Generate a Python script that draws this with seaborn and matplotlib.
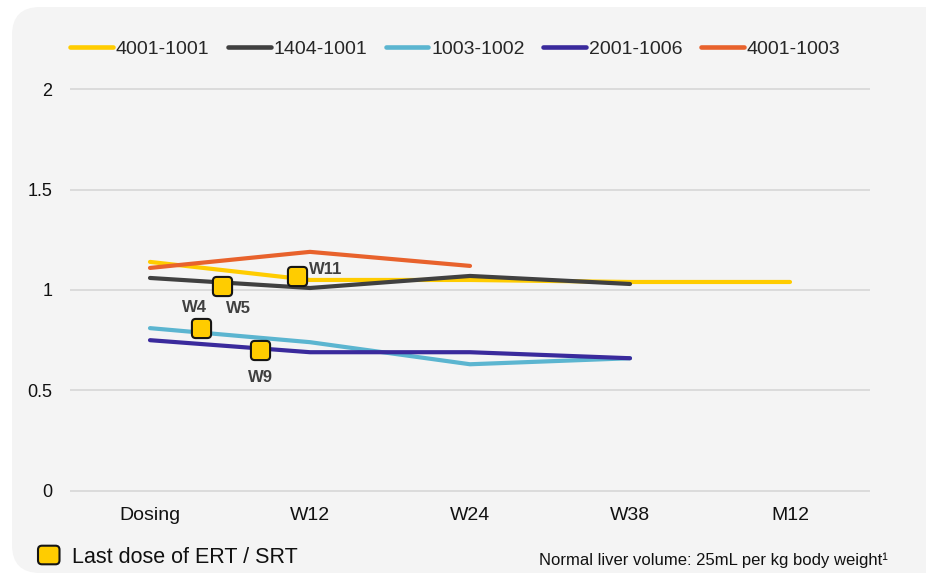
import matplotlib
matplotlib.use("Agg")
import matplotlib.pyplot as plt
import pandas as pd
import seaborn as sns
from matplotlib import font_manager
from matplotlib.patches import FancyBboxPatch
from matplotlib.transforms import IdentityTransform

# ---- data -------------------------------------------------------------
visits = ["Dosing", "W12", "W24", "W38", "M12"]
subjects = ["4001-1001", "1404-1001", "1003-1002", "2001-1006", "4001-1003"]

liver_4001_1001 = [1.14, 1.05, 1.05, 1.04, 1.04]
liver_1404_1001 = [1.06, 1.01, 1.07, 1.03, None]
liver_1003_1002 = [0.81, 0.74, 0.63, 0.66, None]
liver_2001_1006 = [0.75, 0.69, 0.69, 0.66, None]
liver_4001_1003 = [1.11, 1.19, 1.12, None, None]

subject_colors = ["#FFCC00", "#404040", "#5BB5D0", "#3A2A9C", "#E8622C"]

# last dose of ERT / SRT, placed between Dosing (0) and W12 (1)
last_dose_labels = ["W4", "W5", "W9", "W11"]
last_dose_pos = [0.32, 0.45, 0.69, 0.92]
last_dose_values = [0.81, 1.02, 0.70, 1.07]

y_ticks = [0, 0.5, 1, 1.5, 2]
y_tick_labels = ["0", "0.5", "1", "1.5", "2"]

# ---- long-form table ----------------------------------------------------
rows = []
for name, series in zip(subjects, [liver_4001_1001, liver_1404_1001, liver_1003_1002,
                                   liver_2001_1006, liver_4001_1003]):
    for idx, val in enumerate(series):
        if val is not None:
            rows.append({"subject": name, "visit": idx, "ratio": val})
df = pd.DataFrame(rows)

# ---- style --------------------------------------------------------------
sns.set_theme(style="white")
plt.rcParams["font.family"] = ["Liberation Sans", "DejaVu Sans"]

try:
    font_manager.findfont("Liberation Sans Narrow", fallback_to_default=False)
    legend_family, legend_size = "Liberation Sans Narrow", 17
except ValueError:
    legend_family, legend_size = "Liberation Sans", 14

W, H = 926, 575
fig = plt.figure(figsize=(W / 100, H / 100), dpi=100, facecolor="white")

# light rounded panel behind the chart
panel = FancyBboxPatch((12, 2), 990, 566,
                       boxstyle="round,pad=0,rounding_size=28",
                       transform=IdentityTransform(),
                       facecolor="#F4F4F4", edgecolor="none", zorder=-1)
fig.add_artist(panel)

ymin, ymax = -0.01, 2.01
px_per_unit = 200.7
ax_bottom = 490.7 + 0.01 * px_per_unit
ax_top = 89.3 - 0.01 * px_per_unit
ax = fig.add_axes([70 / W, (H - ax_bottom) / H, 800 / W, (ax_bottom - ax_top) / H])
ax.set_facecolor("none")

sns.lineplot(data=df, x="visit", y="ratio", hue="subject", hue_order=subjects,
             palette=subject_colors, linewidth=3, sort=False,
             solid_capstyle="round", solid_joinstyle="round", ax=ax)

ax.set_xlim(-0.5, 4.5)
ax.set_ylim(ymin, ymax)
ax.set_xticks(range(len(visits)), visits)
ax.set_yticks(y_ticks, y_tick_labels)
ax.grid(axis="y", color="#D9D9D9", linewidth=1.3)
ax.grid(axis="x", visible=False)
ax.set_axisbelow(True)
sns.despine(ax=ax, left=True, bottom=True)
ax.set_xlabel("")
ax.set_ylabel("")
ax.tick_params(axis="x", length=0, labelsize=14, pad=10, labelcolor="#111111")
ax.tick_params(axis="y", length=0, labelsize=13, pad=12.7, labelcolor="#111111")

# rounded-square markers for the last dose
marker_path = FancyBboxPatch((-0.5, -0.5), 1, 1,
                             boxstyle="round,pad=0,rounding_size=0.2").get_path()
ax.scatter(last_dose_pos, last_dose_values, marker=marker_path, s=190,
           color="#FFCC00", edgecolors="#151515", linewidths=1.5, zorder=5)

label_offsets = {"W4": ((-4.5, 15), "center"), "W5": ((12, -16), "center"),
                 "W9": ((0, -19.5), "center"), "W11": ((8.5, 5), "left")}
for lab, xp, yv in zip(last_dose_labels, last_dose_pos, last_dose_values):
    off, ha = label_offsets[lab]
    ax.annotate(lab, (xp, yv), xytext=off, textcoords="offset points",
                ha=ha, va="center", fontsize=12, fontweight="bold",
                color="#404040", zorder=6)

# legend across the top
handles, labels = ax.get_legend_handles_labels()
for h in handles:
    h.set_linewidth(3.3)
ax.get_legend().remove()
fig.legend(handles, labels, loc="center left",
           bbox_to_anchor=(70 / W, 1 - 49 / H), bbox_transform=fig.transFigure,
           ncol=5, frameon=False, borderpad=0, borderaxespad=0,
           handlelength=2.2, handletextpad=0.15, columnspacing=0.95,
           prop={"family": legend_family, "size": legend_size})

# key for the marker and footnote
key = FancyBboxPatch((38, 10.7), 21.5, 18.6,
                     boxstyle="round,pad=0,rounding_size=4",
                     transform=IdentityTransform(),
                     facecolor="#FFCC00", edgecolor="#151515", linewidth=1.5)
fig.add_artist(key)
fig.text(72 / W, 11.7 / H, "Last dose of ERT / SRT", fontsize=15.5,
         color="#111111", va="baseline", ha="left")
fig.text(888 / W, 10.3 / H, "Normal liver volume: 25mL per kg body weight\u00b9",
         fontsize=12, color="#111111", va="baseline", ha="right")

fig.savefig("out.png", dpi=100, facecolor="white")
